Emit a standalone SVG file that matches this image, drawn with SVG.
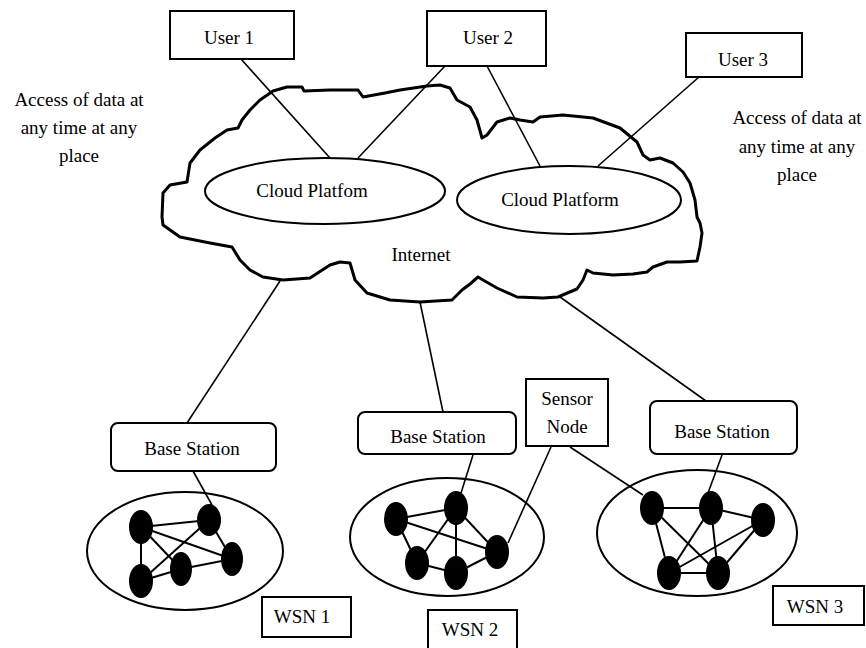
<svg xmlns="http://www.w3.org/2000/svg" width="866" height="648" viewBox="0 0 866 648" font-family="'Liberation Serif', 'DejaVu Serif', serif">
<style>
  text { font-family: 'Liberation Serif', 'DejaVu Serif', serif; font-size: 19px; fill: #000; text-anchor: middle; }
  .box { fill: #fff; stroke: #000; stroke-width: 2; }
  .conn { stroke: #000; stroke-width: 1.6; fill: none; }
  .edge { stroke: #000; stroke-width: 2; fill: none; }
  .cluster { fill: #fff; stroke: #000; stroke-width: 2; }
  .dot { fill: #000; }
  .plat { fill: #fff; stroke: #000; stroke-width: 2; }
</style>
<rect width="866" height="648" fill="#fff"/>

<g id="cloud">
  <path d="M273,91 L287,87 L302,87 L304,91 L330,90 L358,90 L363,97 L385,93 L400,90 L427,86 L440,85 L450,88 L457,100 L470,107 L477,120 L482,138 L487,135 L497,122 L510,118 L520,120 L533,122 L540,117 L563,115 L593,118 L620,128 L637,142 L643,155 L650,160 L660,158 L673,163 L683,172 L690,183 L695,200 L697,217 L700,223 L702,233 L700,247 L697,261 L680,262 L667,262 L653,267 L647,272 L633,274 L613,275 L593,273 L587,270 L583,280 L577,289 L565,294 L558,297 L543,298 L517,297 L497,288 L483,280 L478,277 L470,284 L462,290 L452,300 L420,302 L390,300 L367,293 L355,280 L350,263 L340,262 L330,265 L310,278 L283,280 L263,277 L250,270 L240,260 L232,247 L210,243 L180,237 L163,225 L162,217 L163,193 L170,185 L187,182 L190,163 L200,150 L215,138 L227,130 L238,128 L242,120 L250,110 L260,100 Z" fill="#fff" stroke="#000" stroke-width="3" stroke-linejoin="round"/>
  <text x="421" y="261">Internet</text>
</g>

<g id="platform1">
  <ellipse class="plat" cx="325" cy="191" rx="120" ry="33"/>
  <text x="312" y="197">Cloud Platfom</text>
</g>
<g id="platform2">
  <ellipse class="plat" cx="569" cy="200" rx="112" ry="34"/>
  <text x="560" y="206">Cloud Platform</text>
</g>

<g id="user1">
  <rect class="box" x="170" y="11" width="124" height="48"/>
  <text x="229" y="44">User 1</text>
</g>
<g id="user2">
  <rect class="box" x="427" y="11" width="119" height="55"/>
  <text x="488" y="44">User 2</text>
</g>
<g id="user3">
  <rect class="box" x="686" y="33" width="116" height="44"/>
  <text x="743" y="66">User 3</text>
</g>

<g id="access-left">
  <text x="79" y="106">Access of data at</text>
  <text x="79" y="134">any time at any</text>
  <text x="79" y="162">place</text>
</g>
<g id="access-right">
  <text x="797" y="124">Access of data at</text>
  <text x="797" y="153">any time at any</text>
  <text x="797" y="181">place</text>
</g>

<g id="bs1">
  <rect class="box" x="111" y="423" width="165" height="48" rx="7"/>
  <text x="192" y="455">Base Station</text>
</g>
<g id="bs2">
  <rect class="box" x="358" y="412" width="158" height="42" rx="7"/>
  <text x="438" y="443">Base Station</text>
</g>
<g id="bs3">
  <rect class="box" x="650" y="401" width="147" height="53" rx="7"/>
  <text x="722" y="438">Base Station</text>
</g>
<g id="sensor-node">
  <rect class="box" x="526" y="379" width="82" height="67" stroke-width="1.5"/>
  <text x="567" y="405">Sensor</text>
  <text x="567" y="433">Node</text>
</g>

<g id="wsn1-cluster">
  <ellipse class="cluster" cx="185" cy="551" rx="98" ry="59"/>
  <line class="edge" x1="141" y1="527" x2="209" y2="520"/>
  <line class="edge" x1="141" y1="527" x2="232" y2="559"/>
  <line class="edge" x1="141" y1="527" x2="181" y2="569"/>
  <line class="edge" x1="141" y1="527" x2="141" y2="581"/>
  <line class="edge" x1="209" y1="520" x2="232" y2="559"/>
  <line class="edge" x1="209" y1="520" x2="141" y2="581"/>
  <line class="edge" x1="181" y1="569" x2="232" y2="559"/>
  <line class="edge" x1="141" y1="581" x2="181" y2="569"/>
  <ellipse class="dot" cx="141" cy="527" rx="12" ry="17"/>
  <ellipse class="dot" cx="209" cy="520" rx="12" ry="16"/>
  <ellipse class="dot" cx="232" cy="559" rx="11" ry="17"/>
  <ellipse class="dot" cx="181" cy="569" rx="11" ry="17"/>
  <ellipse class="dot" cx="141" cy="581" rx="12" ry="17"/>
</g>
<g id="wsn2-cluster">
  <ellipse class="cluster" cx="447" cy="537" rx="97" ry="59"/>
  <line class="edge" x1="396" y1="519" x2="456" y2="508"/>
  <line class="edge" x1="396" y1="519" x2="417" y2="563"/>
  <line class="edge" x1="396" y1="519" x2="497" y2="552"/>
  <line class="edge" x1="456" y1="508" x2="417" y2="563"/>
  <line class="edge" x1="456" y1="508" x2="456" y2="573"/>
  <line class="edge" x1="456" y1="508" x2="497" y2="552"/>
  <line class="edge" x1="417" y1="563" x2="456" y2="573"/>
  <line class="edge" x1="456" y1="573" x2="497" y2="552"/>
  <ellipse class="dot" cx="396" cy="519" rx="12" ry="17"/>
  <ellipse class="dot" cx="456" cy="508" rx="12" ry="17"/>
  <ellipse class="dot" cx="497" cy="552" rx="12" ry="17"/>
  <ellipse class="dot" cx="417" cy="563" rx="12" ry="17"/>
  <ellipse class="dot" cx="456" cy="573" rx="12" ry="17"/>
</g>
<g id="wsn3-cluster">
  <ellipse class="cluster" cx="697" cy="533" rx="100" ry="63"/>
  <line class="edge" x1="652" y1="508" x2="711" y2="508"/>
  <line class="edge" x1="711" y1="508" x2="763" y2="520"/>
  <line class="edge" x1="652" y1="508" x2="669" y2="573"/>
  <line class="edge" x1="652" y1="508" x2="718" y2="573"/>
  <line class="edge" x1="711" y1="508" x2="669" y2="573"/>
  <line class="edge" x1="711" y1="508" x2="718" y2="573"/>
  <line class="edge" x1="763" y1="520" x2="669" y2="573"/>
  <line class="edge" x1="763" y1="520" x2="718" y2="573"/>
  <line class="edge" x1="669" y1="573" x2="718" y2="573"/>
  <ellipse class="dot" cx="652" cy="508" rx="12" ry="17"/>
  <ellipse class="dot" cx="711" cy="508" rx="12" ry="17"/>
  <ellipse class="dot" cx="763" cy="520" rx="12" ry="17"/>
  <ellipse class="dot" cx="669" cy="573" rx="12" ry="17"/>
  <ellipse class="dot" cx="718" cy="573" rx="12" ry="17"/>
</g>

<g id="connectors">
  <line class="conn" x1="241" y1="59" x2="330" y2="158"/>
  <line class="conn" x1="445" y1="66" x2="358" y2="158"/>
  <line class="conn" x1="487" y1="66" x2="540" y2="166"/>
  <line class="conn" x1="699" y1="77" x2="598" y2="166"/>
  <line class="conn" x1="280" y1="281" x2="187" y2="423"/>
  <line class="conn" x1="420" y1="302" x2="443" y2="412"/>
  <line class="conn" x1="560" y1="297" x2="706" y2="401"/>
  <line class="conn" x1="193" y1="471" x2="212" y2="505"/>
  <line class="conn" x1="473" y1="455" x2="461" y2="493"/>
  <line class="conn" x1="722" y1="455" x2="708" y2="493"/>
  <line class="conn" x1="551" y1="447" x2="508" y2="543"/>
  <line class="conn" x1="570" y1="447" x2="643" y2="495"/>
</g>

<g id="wsn1-label">
  <rect class="box" x="262" y="597" width="89" height="40" stroke-width="1.5"/>
  <text x="302" y="623">WSN 1</text>
</g>
<g id="wsn2-label">
  <rect class="box" x="428" y="610" width="89" height="45" stroke-width="1.5"/>
  <text x="470" y="636">WSN 2</text>
</g>
<g id="wsn3-label">
  <rect class="box" x="773" y="586" width="91" height="39" stroke-width="1.5"/>
  <text x="815" y="613">WSN 3</text>
</g>
</svg>
